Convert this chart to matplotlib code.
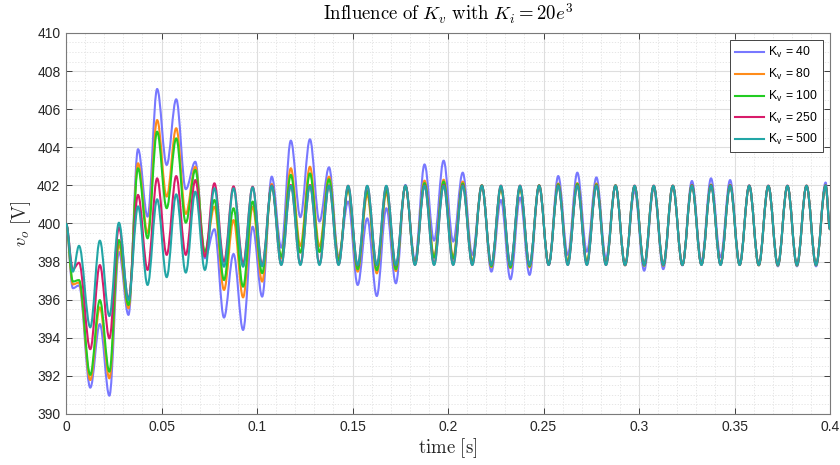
import matplotlib
matplotlib.use("Agg")
import matplotlib.pyplot as plt
from matplotlib.path import Path
from matplotlib.patches import PathPatch
from matplotlib.lines import Line2D
from matplotlib.ticker import MultipleLocator

plt.rcParams['font.family'] = ['Liberation Sans', 'DejaVu Sans']
plt.rcParams['mathtext.fontset'] = 'cm'

###############################################################################
# Data: local extrema of v_o for each K_v
# times of the extrema (start, early shoulder, then every half period)
t_ext = [0.0, 0.0036, 0.0068] + [round(0.0127 + 0.005 * k, 4) for k in range(78)] + [0.4]

v_k40 = [400.0, 396.6, 396.75,
         391.38, 394.72, 390.96, 398.5, 395.2, 403.9, 400.36, 407.06, 403.07, 406.52,
         401.8, 403.24, 398.17, 399.7, 395.06, 398.4, 394.41, 399.83, 396.16, 402.46,
         398.73, 404.35, 400.33, 404.42, 400.1, 402.95, 398.26, 401.15, 396.77, 400.27,
         396.19, 400.8, 396.86, 402.02, 398.08, 403.1, 399.1, 403.3, 399.05, 402.67,
         398.35, 402.0, 397.47, 401.23, 397.07, 401.36, 397.3, 402.0, 397.82, 402.49,
         398.35, 402.67, 398.52, 402.42, 398.17, 402.0, 397.8, 401.72, 397.52, 401.85,
         397.6, 401.97, 397.8, 402.23, 397.99, 402.37, 398.22, 402.28, 397.9, 402.0,
         397.8, 401.95, 397.75, 401.95, 397.75, 401.97, 397.75, 402.15,
         399.7]

v_k80 = [400.0, 396.8, 396.9,
         391.78, 395.6, 391.87, 398.87, 395.55, 403.16, 399.49, 405.43, 401.41, 405.0,
         400.5, 402.98, 398.4, 400.88, 396.51, 400.18, 396.12, 400.88, 396.95, 402.07,
         398.17, 402.9, 398.82, 402.98, 398.8, 402.46, 398.17, 401.76, 397.47, 401.5,
         397.38, 401.6, 397.5, 401.97, 397.9, 402.25, 398.3, 402.3, 398.26, 402.2,
         398.0, 402.0, 397.7, 401.85, 397.65, 401.85, 397.7, 402.0, 397.85, 402.1,
         398.0, 402.12, 398.0, 402.1, 397.9, 402.0, 397.8, 401.95, 397.78, 401.95,
         397.78, 401.98, 397.82, 402.02, 397.86, 402.04, 397.88, 402.02, 397.84, 401.98,
         397.8, 401.97, 397.8, 401.97, 397.8, 401.98, 397.81, 402.0,
         399.7]

v_k100 = [400.0, 396.95, 397.03,
          392.05, 395.98, 392.22, 399.13, 395.72, 402.9, 399.22, 404.82, 400.8, 404.47,
          400.04, 402.81, 398.52, 401.23, 397.03, 400.8, 396.68, 401.15, 397.39, 401.97,
          398.26, 402.55, 398.47, 402.63, 398.5, 402.32, 398.08, 401.85, 397.6, 401.7,
          397.55, 401.75, 397.6, 401.98, 397.88, 402.12, 398.2, 402.2, 398.15, 402.1,
          397.95, 402.0, 397.75, 401.9, 397.7, 401.9, 397.75, 402.0, 397.85, 402.06,
          397.95, 402.08, 397.95, 402.05, 397.88, 402.0, 397.82, 401.96, 397.79, 401.96,
          397.8, 401.98, 397.82, 402.01, 397.85, 402.03, 397.86, 402.01, 397.83, 401.98,
          397.81, 401.97, 397.8, 401.97, 397.8, 401.98, 397.81, 402.0,
          399.7]

v_k250 = [400.0, 397.6, 397.94,
          393.4, 397.82, 393.97, 399.8, 396.02, 401.5, 397.56, 402.37, 398.35, 402.49,
          398.35, 402.28, 398.26, 402.11, 397.99, 401.95, 397.9, 401.93, 397.82, 402.0,
          397.84, 402.02, 397.86, 402.02, 397.86, 402.0, 397.84, 401.98, 397.8, 401.96,
          397.8, 401.96, 397.8, 401.98, 397.83, 402.0, 397.85, 402.02, 397.84, 402.01,
          397.83, 401.99, 397.82, 401.99, 397.82, 401.99, 397.82, 401.99, 397.82, 402.0,
          397.83, 402.0, 397.83, 402.0, 397.82, 401.99, 397.82, 401.99, 397.82, 401.99,
          397.82, 401.99, 397.82, 402.0, 397.83, 402.0, 397.83, 402.0, 397.82, 401.99,
          397.82, 401.99, 397.82, 401.99, 397.82, 401.99, 397.82, 401.99,
          399.7]

v_k500 = [400.0, 397.47, 398.83,
          394.55, 399.1, 395.14, 400.04, 395.98, 400.9, 396.77, 401.27, 397.18, 401.53,
          397.42, 401.67, 397.56, 401.85, 397.73, 401.85, 397.73, 401.9, 397.75, 401.98,
          397.82, 401.98, 397.82, 401.98, 397.82, 401.98, 397.82, 401.98, 397.82, 401.98,
          397.82, 401.98, 397.82, 401.98, 397.82, 401.98, 397.82, 401.98, 397.82, 401.98,
          397.82, 401.98, 397.82, 401.98, 397.82, 401.98, 397.82, 401.98, 397.82, 401.98,
          397.82, 401.98, 397.82, 401.98, 397.82, 401.98, 397.82, 401.98, 397.82, 401.98,
          397.82, 401.98, 397.82, 401.98, 397.82, 401.98, 397.82, 401.98, 397.82, 401.98,
          397.82, 401.98, 397.82, 401.98, 397.82, 401.98, 397.82, 401.98,
          399.7]

kv_values = [40, 80, 100, 250, 500]
series = [v_k40, v_k80, v_k100, v_k250, v_k500]
colors = ['#7878ff', '#ff8c1a', '#22cc22', '#d81b6a', '#22a6a6']

xticks = [0, 0.05, 0.1, 0.15, 0.2, 0.25, 0.3, 0.35, 0.4]
xticklabels = ['0', '0.05', '0.1', '0.15', '0.2', '0.25', '0.3', '0.35', '0.4']
yticks = list(range(390, 411, 2))

for s in series:
    assert len(s) == len(t_ext)


def smooth_path(t, v, k=0.36):
    """Cubic Bezier through the extrema, flat tangent at each one"""
    verts = [(t[0], v[0])]
    codes = [Path.MOVETO]
    for i in range(1, len(t)):
        dt = t[i] - t[i - 1]
        verts += [(t[i - 1] + k * dt, v[i - 1]), (t[i] - k * dt, v[i]), (t[i], v[i])]
        codes += [Path.CURVE4] * 3
    return Path(verts, codes)


###############################################################################
fig = plt.figure(figsize=(8.4, 4.65), dpi=100)
ax = fig.add_axes([0.0786, 0.1097, 0.9095, 0.8194])

handles = []
for kv, v, c in zip(kv_values, series, colors):
    ax.add_patch(PathPatch(smooth_path(t_ext, v), fill=False, edgecolor=c,
                           lw=1.5, joinstyle='round', capstyle='round', zorder=3))
    handles.append(Line2D([], [], color=c, lw=1.5,
                          label=r'K$_\mathregular{v}$ = %d' % kv))

ax.set_xlim(0, 0.4)
ax.set_ylim(390, 410)
ax.set_xticks(xticks)
ax.set_xticklabels(xticklabels)
ax.set_yticks(yticks)
ax.xaxis.set_minor_locator(MultipleLocator(0.01))
ax.yaxis.set_minor_locator(MultipleLocator(0.5))

ax.grid(True, which='major', color='#dedede', lw=0.8, ls='-', zorder=0)
ax.grid(True, which='minor', color='#e2e2e2', lw=0.6, ls=(0, (1.5, 2)), zorder=0)
ax.set_axisbelow(True)

ax.tick_params(which='both', direction='in', top=True, right=True,
               colors='#262626', labelsize=10, width=0.6, pad=4)
ax.tick_params(which='major', length=4)
ax.tick_params(which='minor', length=0)
for sp in ax.spines.values():
    sp.set_color('#7a7a7a')
    sp.set_linewidth(0.8)

ax.set_title(r'$\mathrm{Influence\ of\ }K_v\mathrm{\ with\ }K_i = 20e^3$',
             fontsize=13.5, pad=8.5, color='black')
ax.set_xlabel(r'$\mathrm{time\ [s]}$', fontsize=13.5, labelpad=2, color='#262626')
ax.set_ylabel(r'$v_o\ \mathrm{[V]}$', fontsize=13.5, labelpad=3, color='#262626')

leg = ax.legend(handles=handles, loc='upper right', fontsize=8.8,
                handlelength=2.4, handletextpad=0.3, borderpad=0.4,
                labelspacing=0.55, fancybox=False, framealpha=1,
                borderaxespad=0.6)
leg.get_frame().set_edgecolor('#262626')
leg.get_frame().set_linewidth(0.6)

fig.savefig('out.png', dpi=100)
